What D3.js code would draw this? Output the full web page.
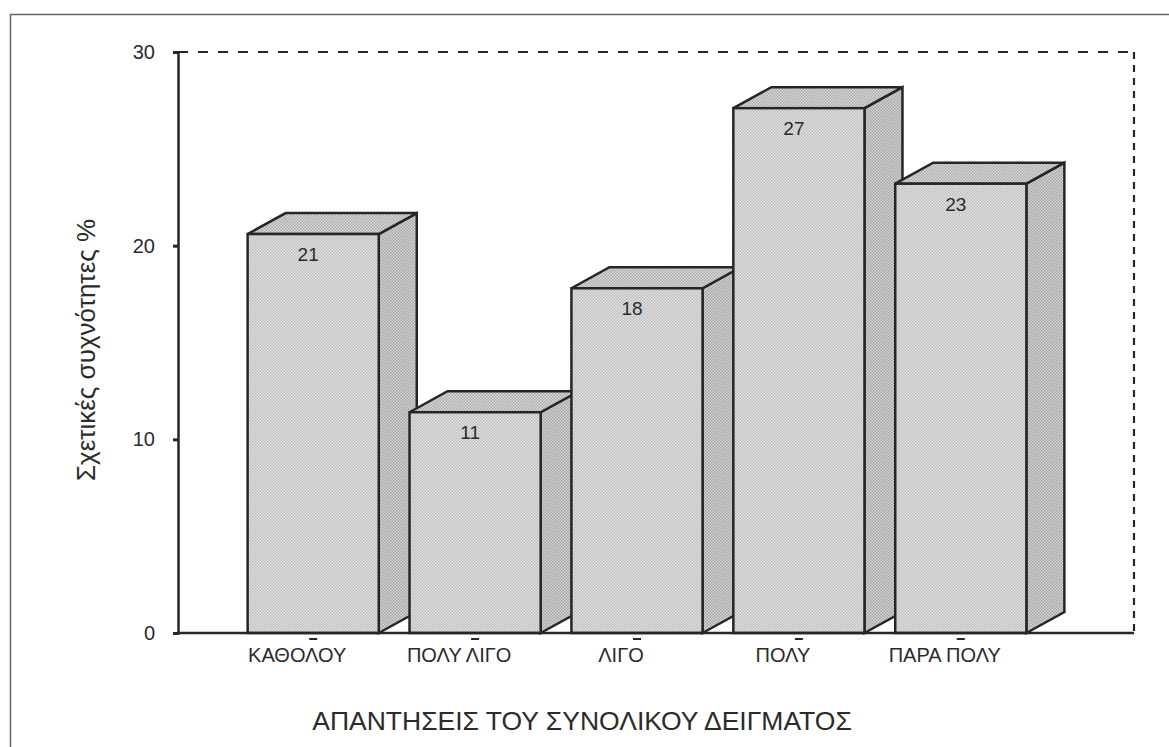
<!DOCTYPE html>
<html>
<head>
	<meta charset="utf-8">
	<title>Σχετικές συχνότητες</title>
	<script type="text/javascript" src="https://cdn.jsdelivr.net/npm/d3@7"></script>
	<style>
		body {
			margin: 0;
			background: #fff;
			font-family: Arial, "Liberation Sans", sans-serif;
		}
	</style>
</head>

<body>

	<div id="chart"></div>

	<script>

	// data

	const categories = ["ΚΑΘΟΛΟΥ", "ΠΟΛΥ ΛΙΓΟ", "ΛΙΓΟ", "ΠΟΛΥ", "ΠΑΡΑ ΠΟΛΥ"];
	const values     = [20.6, 11.4, 17.8, 27.1, 23.2];
	const yTicks     = [0, 10, 20, 30];
	const yLabel     = "Σχετικές συχνότητες %";
	const xLabel     = "ΑΠΑΝΤΗΣΕΙΣ ΤΟΥ ΣΥΝΟΛΙΚΟΥ ΔΕΙΓΜΑΤΟΣ";

	// customization

	const width      = 1169;
	const height     = 747;
	const plotLeft   = 178;
	const plotRight  = 1096;   // front plane, the back plane is shifted by depth
	const plotTop    = 52;
	const plotBottom = 633;
	const depthX     = 38;
	const depthY     = -21;
	const ink        = "#262626";
	const textColor  = "#2b2b2b";
	const fontFamily = "Arial, 'Liberation Sans', sans-serif";

	const svg = d3.select("#chart")
		.append("svg")
		.attr("width", width)
		.attr("height", height)
		.attr("viewBox", [0, 0, width, height]);

	// halftone-like fills
	const defs = svg.append("defs");
	function dots(id, bg, fg) {
		const p = defs.append("pattern")
			.attr("id", id)
			.attr("width", 3)
			.attr("height", 3)
			.attr("patternUnits", "userSpaceOnUse");
		p.append("rect").attr("width", 3).attr("height", 3).attr("fill", bg);
		p.append("rect").attr("x", 0).attr("y", 0).attr("width", 1.5).attr("height", 1.5).attr("fill", fg);
		p.append("rect").attr("x", 1.5).attr("y", 1.5).attr("width", 1.5).attr("height", 1.5).attr("fill", fg);
	}
	dots("front", "#e4e4e4", "#bcbcbc");
	dots("side",  "#d8d8d8", "#a2a2a2");
	dots("top",   "#dcdcdc", "#a8a8a8");

	// outer frame
	svg.append("rect")
		.attr("x", 10.5)
		.attr("y", 14.5)
		.attr("width", 1300)
		.attr("height", 900)
		.attr("fill", "none")
		.attr("stroke", "#666")
		.attr("stroke-width", 1.5);

	const x = d3.scaleBand()
		.domain(categories)
		.range([plotLeft, plotRight])
		.paddingInner(0.19)
		.paddingOuter(0.43);

	const y = d3.scaleLinear()
		.domain([0, 30])
		.range([plotBottom, plotTop]);

	// dashed back edges of the plot area
	svg.append("line")
		.attr("x1", plotLeft).attr("x2", plotRight + depthX)
		.attr("y1", y(30)).attr("y2", y(30))
		.attr("stroke", ink)
		.attr("stroke-width", 2.2)
		.attr("stroke-dasharray", "10,10");
	svg.append("line")
		.attr("x1", plotRight + depthX).attr("x2", plotRight + depthX)
		.attr("y1", y(30)).attr("y2", y(0))
		.attr("stroke", ink)
		.attr("stroke-width", 2.2)
		.attr("stroke-dasharray", "7,6");

	// bars
	const bars = svg.append("g")
		.attr("stroke", ink)
		.attr("stroke-width", 2.5)
		.selectAll("g")
		.data(categories)
		.join("g");

	bars.each(function (c, i) {
		const g = d3.select(this);
		const x0 = x(c);
		const x1 = x0 + x.bandwidth();
		const yt = y(values[i]);
		const yb = y(0);
		// side face
		g.append("path")
			.attr("fill", "url(#side)")
			.attr("d", `M${x1},${yt}L${x1 + depthX},${yt + depthY}L${x1 + depthX},${yb + depthY}L${x1},${yb}Z`);
		// top face
		g.append("path")
			.attr("fill", "url(#top)")
			.attr("d", `M${x0},${yt}L${x0 + depthX},${yt + depthY}L${x1 + depthX},${yt + depthY}L${x1},${yt}Z`);
		// front face
		g.append("rect")
			.attr("x", x0)
			.attr("y", yt)
			.attr("width", x.bandwidth())
			.attr("height", yb - yt)
			.attr("fill", "url(#front)");
	});

	// value labels
	svg.append("g")
		.selectAll("text")
		.data(categories)
		.join("text")
		.attr("x", c => x(c) + x.bandwidth() / 2 - 5)
		.attr("y", (c, i) => y(values[i]) + 27)
		.attr("text-anchor", "middle")
		.attr("fill", textColor)
		.style("font-size", "19px")
		.text((c, i) => d3.format(".0f")(values[i]));

	// y axis
	svg.append("g")
		.attr("transform", `translate(${plotLeft},0)`)
		.call(d3.axisLeft(y).tickValues(yTicks).tickSize(5).tickPadding(18))
		.call(g => g.select(".domain").attr("stroke", ink).attr("stroke-width", 2.5))
		.call(g => g.selectAll(".tick line").attr("stroke", ink).attr("stroke-width", 3))
		.call(g => g.selectAll(".tick text")
			.attr("fill", textColor)
			.style("font-size", "20px")
			.style("font-family", fontFamily));

	// x axis
	svg.append("g")
		.attr("transform", `translate(0,${plotBottom})`)
		.call(d3.axisBottom(x).tickSize(0).tickPadding(15).tickSizeOuter(0))
		.call(g => g.select(".domain")
			.attr("d", `M${plotLeft},0H${plotRight + depthX}`)
			.attr("stroke", ink)
			.attr("stroke-width", 2.5))
		.call(g => g.selectAll(".tick").append("line")
			.attr("x1", -4).attr("x2", 4)
			.attr("y1", 6).attr("y2", 6)
			.attr("stroke", ink)
			.attr("stroke-width", 2))
		.call(g => g.selectAll(".tick text")
			.attr("dx", -16)
			.attr("fill", textColor)
			.style("font-size", "20px")
			.style("font-family", fontFamily));

	// axis titles
	svg.append("text")
		.attr("transform", `translate(95,350) rotate(-90)`)
		.attr("text-anchor", "middle")
		.attr("fill", textColor)
		.style("font-size", "26px")
		.text(yLabel);

	svg.append("text")
		.attr("x", 582)
		.attr("y", 730)
		.attr("text-anchor", "middle")
		.attr("fill", textColor)
		.style("font-size", "26.5px")
		.text(xLabel);

	</script>

</body>

</html>
